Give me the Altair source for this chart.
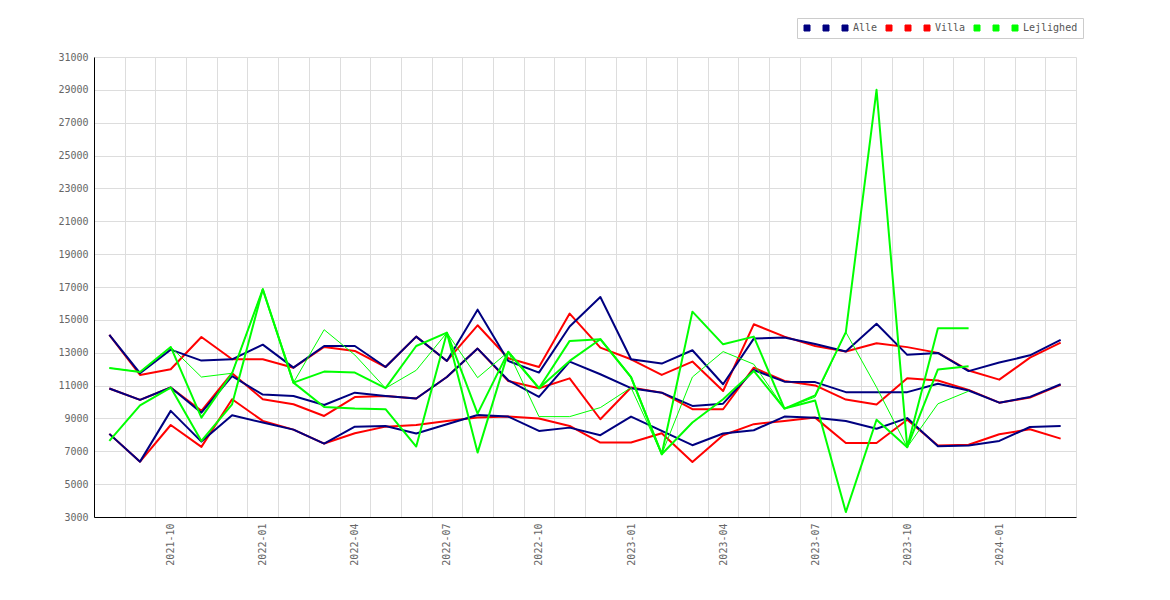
import json
import altair as alt
import pandas as pd

months = ["2021-08", "2021-09", "2021-10", "2021-11", "2021-12",
          "2022-01", "2022-02", "2022-03", "2022-04", "2022-05", "2022-06",
          "2022-07", "2022-08", "2022-09", "2022-10", "2022-11", "2022-12",
          "2023-01", "2023-02", "2023-03", "2023-04", "2023-05", "2023-06",
          "2023-07", "2023-08", "2023-09", "2023-10", "2023-11", "2023-12",
          "2024-01", "2024-02", "2024-03"]

y_ticks = [3000, 5000, 7000, 9000, 11000, 13000, 15000, 17000, 19000,
           21000, 23000, 25000, 27000, 29000, 31000]

alle_1 = [14080, 11750, 13190, 12520, 12600, 13490, 12090, 13410, 13410, 12130, 13980,
          12500, 15620, 12500, 11790, 14600, 16390, 12600, 12340, 13150, 11080, 13860,
          13920, 13530, 13070, 14760, 12870, 12990, 11880, 12400, 12840, 13780]
alle_2 = [10820, 10130, 10880, 9350, 11570, 10450, 10370, 9820, 10570, 10370, 10210,
          11520, 13250, 11320, 10310, 12460, 11690, 10840, 10570, 9760, 9900, 11950,
          11240, 11210, 10600, 10600, 10600, 11110, 10700, 9960, 10310, 11080]
alle_3 = [8060, 6370, 9460, 7590, 9190, 8750, 8320, 7470, 8500, 8540, 8080,
          8650, 9210, 9110, 8240, 8440, 7980, 9110, 8240, 7370, 8080, 8280,
          9110, 9040, 8840, 8370, 9020, 7310, 7350, 7630, 8480, 8540]

villa_1 = [14080, 11650, 11990, 13960, 12600, 12600, 12090, 13350, 13110, 12130, 13980,
           12500, 14670, 12660, 12130, 15380, 13310, 12600, 11650, 12460, 10670, 14730,
           13980, 13410, 13070, 13580, 13340, 12990, 11920, 11360, 12700, 13610]
villa_2 = [10820, 10130, 10880, 9460, 11750, 10170, 9860, 9150, 10300, 10370, 10210,
           11520, 13250, 11280, 10840, 11440, 8950, 10880, 10570, 9560, 9560, 12090,
           11280, 11010, 10150, 9850, 11450, 11310, 10740, 9960, 10270, 11040]
villa_3 = [8060, 6370, 8600, 7270, 10170, 8850, 8320, 7470, 8100, 8500, 8600,
           8850, 9050, 9110, 8990, 8540, 7530, 7530, 8100, 6350, 7980, 8650,
           8850, 9050, 7500, 7500, 8920, 7350, 7400, 8040, 8340, 7770]

lejl_1 = [12070, 11830, 13350, 9050, 11750, 16860, 11180, 11850, 11790, 10840, 13410,
          14220, 6920, 13050, 10840, 13720, 13820, 11520, 6820, 15500, 13510, 13980,
          9600, 10400, 14250, 29000, 7250, 14490, 14490]
lejl_2 = [7630, 9800, 10880, 7630, 9860, 16860, 11180, 9700, 9600, 9560, 7290,
          14220, 9290, 13050, 10840, 12500, 13820, 11520, 6820, 8750, 10170, 11890,
          9600, 10090, 3300, 8920, 7250, 11980, 12180]
lejl_3 = [12070, 11830, 13350, 11520, 11750, 16860, 11180, 14400, 12860, 10840, 11930,
          14220, 11480, 13050, 9110, 9110, 9660, 10880, 6820, 11520, 13070, 12300,
          9600, 10300, 14250, 10900, 7250, 9890, 10660]

series_defs = [
    ("Alle 1", "Alle", alle_1, "#000080", 2),
    ("Alle 2", "Alle", alle_2, "#000080", 2),
    ("Alle", "Alle", alle_3, "#000080", 2),
    ("Villa 1", "Villa", villa_1, "#ff0000", 2),
    ("Villa 2", "Villa", villa_2, "#ff0000", 2),
    ("Villa", "Villa", villa_3, "#ff0000", 2),
    ("Lejlighed 1", "Lejlighed", lejl_1, "#00ff00", 2),
    ("Lejlighed 2", "Lejlighed", lejl_2, "#00ff00", 2),
    ("Lejlighed", "Lejlighed", lejl_3, "#00ff00", 1),
]

rows = []
for name, grp, vals, col, w in series_defs:
    for i, v in enumerate(vals):
        rows.append({"idx": i, "month": months[i], "value": v,
                     "series": name, "group": grp, "w": w})
df = pd.DataFrame(rows)

domain = [s[0] for s in series_defs]
colors = [s[3] for s in series_defs]

FONT = "DejaVu Sans Mono"
n = len(months)
month_js = json.dumps(months)
half_band = 982 / n / 2

x_enc = alt.X(
    "idx:Q",
    scale=alt.Scale(domain=[-0.5, n - 0.5], nice=False, zero=False),
    axis=alt.Axis(
        title=None,
        values=[i - 0.5 for i in range(n + 1)],
        labelExpr=f"((datum.value + 0.5) % 3 == 2 && datum.value < {n - 1}) ? {month_js}[datum.value + 0.5] : ''",
        labelAngle=270,
        labelOffset=half_band,
        labelPadding=6,
        labelOverlap=False,
        labelFlush=False,
        ticks=False,
        grid=True,
        gridColor="#dddddd",
        domainColor="#000000",
        labelFont=FONT,
        labelFontSize=10,
        labelColor="#666666",
    ),
)

y_enc = alt.Y(
    "value:Q",
    scale=alt.Scale(domain=[3000, 31000], nice=False, zero=False),
    axis=alt.Axis(
        title=None,
        values=y_ticks,
        format="d",
        ticks=False,
        labelPadding=6,
        grid=True,
        gridColor="#dddddd",
        domainColor="#000000",
        labelFont=FONT,
        labelFontSize=10,
        labelColor="#666666",
    ),
)

color_scale = alt.Scale(domain=domain, range=colors)

legend_color = alt.Color(
    "series:N",
    scale=color_scale,
    legend=alt.Legend(
        title=None,
        orient="none",
        legendX=703,
        legendY=-39,
        direction="horizontal",
        symbolType="square",
        symbolSize=36,
        symbolStrokeWidth=1,
        symbolStrokeColor="#444444",
        symbolOpacity=1,
        labelFont=FONT,
        labelFontSize=10,
        labelColor="#555555",
        labelOffset=3,
        columnPadding=6,
        padding=5,
        strokeColor="#cccccc",
        fillColor="#ffffff",
        labelExpr="indexof(datum.label, ' ') >= 0 ? ' ' : datum.label",
    ),
)

line_color = alt.Color("series:N", scale=color_scale, legend=None)
sw_enc = alt.StrokeWidth("w:Q", scale=None, legend=None)


def layer_for(group):
    return alt.Chart(df[df["group"] == group]).mark_line(
        strokeJoin="round"
    ).encode(x=x_enc, y=y_enc, color=line_color, strokeWidth=sw_enc)


# legend-only layer (filtered to no rows) so the legend uses filled squares
legend_layer = alt.Chart(df).transform_filter("false").mark_square(
    filled=True, size=36, stroke="#444444", strokeWidth=1, opacity=1
).encode(x=x_enc, y=y_enc, color=legend_color)

chart = alt.layer(
    legend_layer,
    layer_for("Villa"),
    layer_for("Alle"),
    layer_for("Lejlighed"),
).properties(
    width=982,
    height=460,
    padding={"left": 86, "top": 49, "right": 80, "bottom": 60},
    autosize=alt.AutoSizeParams(type="none"),
    background="#ffffff",
).configure_view(strokeWidth=0)

chart.save("out.html", embed_options={"renderer": "svg", "actions": False})
